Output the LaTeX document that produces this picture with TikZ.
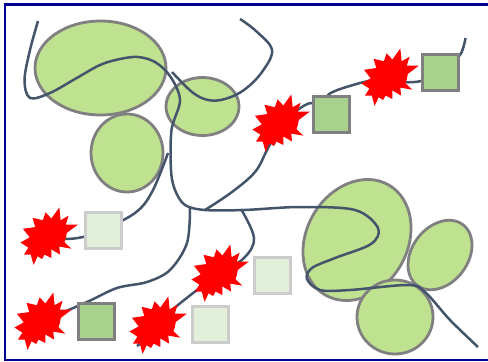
\documentclass[tikz,border=0pt]{standalone}
\usetikzlibrary{shapes.geometric}

\definecolor{leafgreen}{HTML}{BFE290}
\definecolor{boxgreen}{HTML}{A9D18E}
\definecolor{palegreen}{HTML}{E2EFDA}
\definecolor{wireblue}{HTML}{44546A}
\definecolor{framenavy}{HTML}{000090}

\def\px{0.75pt}

\pgfdeclarelayer{front}
\pgfsetlayers{main,front}

\tikzset{
  x=\px, y=-\px,
  blob/.style={ellipse, draw=black!50, fill=leafgreen, line width=2.8*\px, inner sep=0pt, outer sep=0pt},
  boxon/.style={rectangle, draw=black!50, fill=boxgreen, line width=3*\px, minimum size=36*\px, inner sep=0pt, outer sep=0pt},
  boxoff/.style={rectangle, draw=black!20, fill=palegreen, line width=3*\px, minimum size=36*\px, inner sep=0pt, outer sep=0pt},
  wire/.style={draw=wireblue, line width=2.5*\px},
  burst/.pic={
    \fill[red, scale=1.03] (10,-27.7) -- (11.3,-15.3) -- (19,-19.7) -- (16.3,-11) -- (28,-11) -- (17.3,-3)
      -- (16.3,2.3) -- (15,6) -- (21.7,12.3) -- (10,10.3) -- (10.7,18) -- (2.3,13) -- (2.3,21.3)
      -- (-4.3,18) -- (-6.7,22.3) -- (-11,19.7) -- (-15,28) -- (-17.7,18) -- (-24.3,18) -- (-20,11.3)
      -- (-27.7,6.3) -- (-18.7,1.3) -- (-25.3,-7) -- (-13.3,-8.7) -- (-16,-17.7) -- (-6,-15.3)
      -- (-3.3,-23) -- (2.3,-17) -- cycle;
  }
}

\begin{document}
\begin{tikzpicture}
  \useasboundingbox (0,0) rectangle (488,361);

  % Boxes and bursts sit above the wires
  \begin{pgfonlayer}{front}
    \node[boxoff] (box_a) at (103,230) {};
    \node[boxoff] (box_b) at (272,275) {};
    \node[boxoff] (box_c) at (210.5,324) {};
    \node[boxon] (box_d) at (96,321) {};
    \node[boxon] (box_e) at (331,114.5) {};
    \node[boxon] (box_f) at (440,72.5) {};

    \coordinate (star_a) at (49,236);
    \coordinate (star_b) at (43,321);
    \coordinate (star_c) at (158,325);
    \coordinate (star_d) at (220,273);
    \coordinate (star_e) at (281,123);
    \coordinate (star_f) at (390,77);
    \pic at (star_a) {burst};
    \pic at (star_b) {burst};
    \pic at (star_c) {burst};
    \pic at (star_d) {burst};
    \pic at (star_e) {burst};
    \pic at (star_f) {burst};
  \end{pgfonlayer}

  % Frame
  \draw[framenavy, line width=2.8*\px] (5,4.5) rectangle (492,360);

  % Blobs
  \node[blob, minimum width=131*\px, minimum height=94*\px] (blob_a) at (100.5,68) {};
  \node[blob, minimum width=72*\px, minimum height=78*\px] (blob_b) at (127,153) {};
  \node[blob, minimum width=73*\px, minimum height=58*\px] (blob_c) at (202.5,106.5) {};
  \node[blob, minimum width=127*\px, minimum height=101*\px, rotate=60] (blob_d) at (357,240) {};
  \node[blob, minimum width=76*\px, minimum height=56*\px, rotate=53] (blob_e) at (440,255) {};
  \node[blob, minimum width=76*\px, minimum height=74*\px] (blob_f) at (395,317) {};

  % Wire ends
  \coordinate (end_a) at (38,21);
  \coordinate (end_b) at (478,347);
  \coordinate (end_c) at (240,19);
  \coordinate (end_d) at (172,72);
  \coordinate (end_e) at (465.5,38);
  \coordinate (end_f) at (205,210);
  \coordinate (end_g) at (168,153);
  \coordinate (end_h) at (190,208);
  \coordinate (end_i) at (241,209);
  \coordinate (end_j) at (137,346);

  % Wires
  \draw[wire] plot[smooth, tension=0.55] coordinates {(end_a) (30,50) (24.5,80) (30,98) (50,93) (75,79)
    (100,65) (120,59) (138,57) (155,62) (170,76) (180,100) (171.5,130) (171,170) (175,190) (185,205) (205,210) (244,210)
    (300,207) (355,210) (378,228) (371,244) (335,258) (312,268) (307,279) (320,290) (350,290) (408,285)
    (425,292) (450,320) (end_b)};
  \draw[wire] plot[smooth, tension=0.6] coordinates {(end_c) (256,31) (272,50) (262,72) (244,90) (225,99)
    (208,100) (192,92) (end_d)};
  \draw[wire] plot[smooth, tension=0.5] coordinates {(end_e) (460,55) (box_f)};
  \draw[wire] plot[smooth, tension=0.5] coordinates {(box_f) (421,81) (404,82) (star_f)};
  \draw[wire] plot[smooth, tension=0.5] coordinates {(star_f) (360,83) (328,95) (box_e)};
  \draw[wire] plot[smooth, tension=0.5] coordinates {(box_e) (312,103) (296,111) (star_e)};
  \draw[wire] plot[smooth, tension=0.6] coordinates {(star_e) (267,150) (255,172) (232,192) (end_f)};
  \draw[wire] plot[smooth, tension=0.5] coordinates {(star_a) (65,239) (83,237) (box_a)};
  \draw[wire] plot[smooth, tension=0.6] coordinates {(box_a) (135,213) (152,192) (end_g)};
  \draw[wire] plot[smooth, tension=0.55] coordinates {(end_h) (187,243) (170,270) (147,282) (117,288)
    (87,302) (star_b)};
  \draw[wire] plot[smooth, tension=0.6] coordinates {(end_i) (254,238) (244,258) (star_d)};
  \draw[wire] plot[smooth, tension=0.5] coordinates {(star_d) (197,290) (170,312) (155,332) (end_j)};
\end{tikzpicture}
\end{document}
